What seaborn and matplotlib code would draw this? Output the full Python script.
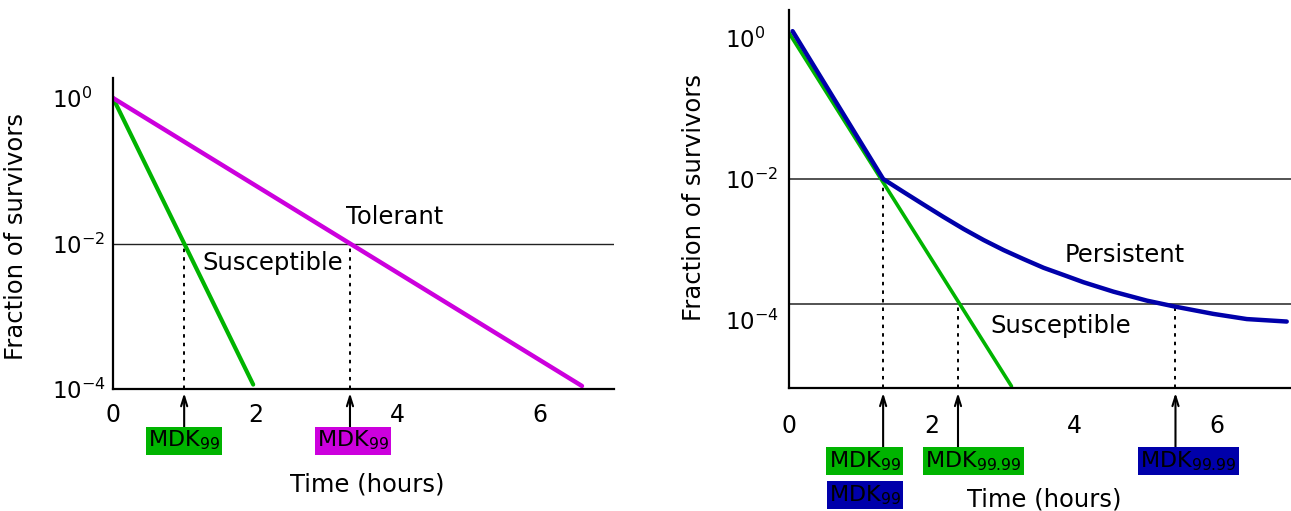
import matplotlib
matplotlib.use("Agg")
import matplotlib.pyplot as plt
from matplotlib.ticker import NullLocator
import seaborn as sns

# ---- Left panel: susceptible vs tolerant killing curves ----
left_susc_time = [0.0, 1.97]
left_susc_frac = [1.0, 1.15e-4]
left_tol_time = [0.0, 6.59]
left_tol_frac = [1.0, 1.1e-4]
left_threshold = 1e-2
left_mdk_time = [1.0, 3.33]          # MDK99 of susceptible, tolerant
left_mdk_text = ["MDK$_{99}$", "MDK$_{99}$"]

# ---- Right panel: susceptible vs persistent killing curves ----
right_susc_time = [0.0, 3.12]
right_susc_frac = [1.18, 1.15e-5]
right_pers_time = [0.05, 1.32, 1.60, 1.88, 2.16, 2.45, 2.73, 3.01, 3.29, 3.57,
                   3.85, 4.13, 4.55, 5.02, 5.41, 5.95, 6.42, 6.98]
right_pers_frac = [1.25, 1.0e-2, 6.6e-3, 4.38e-3, 2.92e-3, 1.95e-3, 1.36e-3,
                   9.8e-4, 7.3e-4, 5.5e-4, 4.35e-4, 3.43e-4, 2.52e-4, 1.88e-4,
                   1.55e-4, 1.22e-4, 1.03e-4, 9.5e-5]
right_thresholds = [1e-2, 1.67e-4]
right_mdk_time = [1.32, 2.37, 5.42]   # MDK99 (both), MDK99.99 susceptible, MDK99.99 persistent
right_mdk_text = ["MDK$_{99}$", "MDK$_{99.99}$", "MDK$_{99.99}$"]

x_ticks = [0, 2, 4, 6]
y_ticks = [1.0, 1e-2, 1e-4]
y_tick_text = ["$10^{0}$", "$10^{-2}$", "$10^{-4}$"]

GREEN = "#00b400"
MAGENTA = "#cc00dd"
BLUE = "#0000aa"

sns.set_style("white")
plt.rcParams["font.family"] = ["DejaVu Sans"]
plt.rcParams["mathtext.fontset"] = "dejavusans"
plt.rcParams["text.color"] = "black"
plt.rcParams["axes.labelcolor"] = "black"
plt.rcParams["xtick.color"] = "black"
plt.rcParams["ytick.color"] = "black"

W, H = 1291, 511
fig = plt.figure(figsize=(W / 100, H / 100), dpi=100)


def px_axes(x0, x1, ybot, ytop):
    return fig.add_axes([x0 / W, 1 - ybot / H, (x1 - x0) / W, (ybot - ytop) / H])


def style_axes(ax, ylim, xpad, ypad):
    ax.set_yscale("log")
    ax.set_xlim(0, 7.04)
    ax.set_ylim(*ylim)
    for s in ("top", "right"):
        ax.spines[s].set_visible(False)
    for s in ("left", "bottom"):
        ax.spines[s].set_color("black")
        ax.spines[s].set_linewidth(1.6)
    ax.set_xticks(x_ticks)
    ax.set_xticklabels([str(t) for t in x_ticks], fontsize=17)
    ax.set_yticks(y_ticks)
    ax.set_yticklabels(y_tick_text, fontsize=16.5)
    ax.yaxis.set_minor_locator(NullLocator())
    ax.tick_params(axis="both", length=0, colors="black")
    ax.tick_params(axis="x", pad=xpad)
    ax.tick_params(axis="y", pad=ypad)
    for lab in ax.get_yticklabels():
        lab.set_horizontalalignment("left")


def mdk_marker(ax, t, y_thr, tip, tail):
    ybot = ax.get_ylim()[0]
    ax.plot([t, t], [ybot, y_thr], color="black", lw=1.4,
            linestyle=(0, (1.8, 2.6)), zorder=1)
    ax.annotate("", xy=(t, tip), xytext=(t, tail),
                xycoords=ax.get_xaxis_transform(),
                textcoords=ax.get_xaxis_transform(),
                arrowprops=dict(arrowstyle="->,head_length=0.7,head_width=0.22",
                                color="black", lw=1.5, shrinkA=0, shrinkB=0),
                annotation_clip=False)


def mdk_box(ax, x, y, text, color):
    ax.text(x, y, text, transform=ax.get_xaxis_transform(), ha="center",
            va="center", fontsize=16, color="black",
            bbox=dict(boxstyle="square,pad=0.1", facecolor=color,
                      edgecolor="none"), clip_on=False)


# ---------------- Left panel ----------------
axL = px_axes(113, 614, 389, 78)
style_axes(axL, (1e-4, 10 ** 0.275), xpad=10, ypad=44)
axL.axhline(left_threshold, color="#222222", lw=1.0, zorder=1)
sns.lineplot(x=left_susc_time, y=left_susc_frac, ax=axL, color=GREEN, lw=3.0)
sns.lineplot(x=left_tol_time, y=left_tol_frac, ax=axL, color=MAGENTA, lw=3.2)
for t in left_mdk_time:
    mdk_marker(axL, t, left_threshold, -0.013, -0.122)
mdk_box(axL, left_mdk_time[0], -0.166, left_mdk_text[0], GREEN)
mdk_box(axL, left_mdk_time[1] + 0.04, -0.166, left_mdk_text[1], MAGENTA)
axL.text(3.96, 0.0231, "Tolerant", fontsize=17.5, ha="center", va="center")
axL.text(2.24, 5.4e-3, "Susceptible", fontsize=17.5, ha="center", va="center")
axL.set_xlabel("Time (hours)", fontsize=17.5)
axL.xaxis.set_label_coords(0.507, -0.267)
axL.set_ylabel("Fraction of survivors", fontsize=17.5)
axL.yaxis.set_label_coords(-0.170, 0.489)

# ---------------- Right panel ----------------
axR = px_axes(789, 1291, 388, 10)
style_axes(axR, (10 ** -4.965, 10 ** 0.397), xpad=19, ypad=46)
for thr in right_thresholds:
    axR.axhline(thr, color="#444444", lw=1.3, zorder=1)
sns.lineplot(x=right_susc_time, y=right_susc_frac, ax=axR, color=GREEN, lw=2.6)
sns.lineplot(x=right_pers_time, y=right_pers_frac, ax=axR, color=BLUE, lw=3.2)
mdk_marker(axR, right_mdk_time[0], right_thresholds[0], -0.013, -0.156)
mdk_marker(axR, right_mdk_time[1], right_thresholds[1], -0.013, -0.156)
mdk_marker(axR, right_mdk_time[2], right_thresholds[1], -0.013, -0.156)
mdk_box(axR, 1.06, -0.193, right_mdk_text[0], GREEN)
mdk_box(axR, 1.07, -0.283, right_mdk_text[0], BLUE)
mdk_box(axR, 2.59, -0.193, right_mdk_text[1], GREEN)
mdk_box(axR, 5.60, -0.193, right_mdk_text[2], BLUE)
axR.text(4.71, 8.36e-4, "Persistent", fontsize=17.5, ha="center", va="center")
axR.text(3.81, 8.2e-5, "Susceptible", fontsize=17.5, ha="center", va="center")
axR.set_xlabel("Time (hours)", fontsize=17.5)
axR.xaxis.set_label_coords(0.508, -0.262)
axR.set_ylabel("Fraction of survivors", fontsize=17.5)
axR.yaxis.set_label_coords(-0.165, 0.505)

fig.savefig("out.png", dpi=100)
